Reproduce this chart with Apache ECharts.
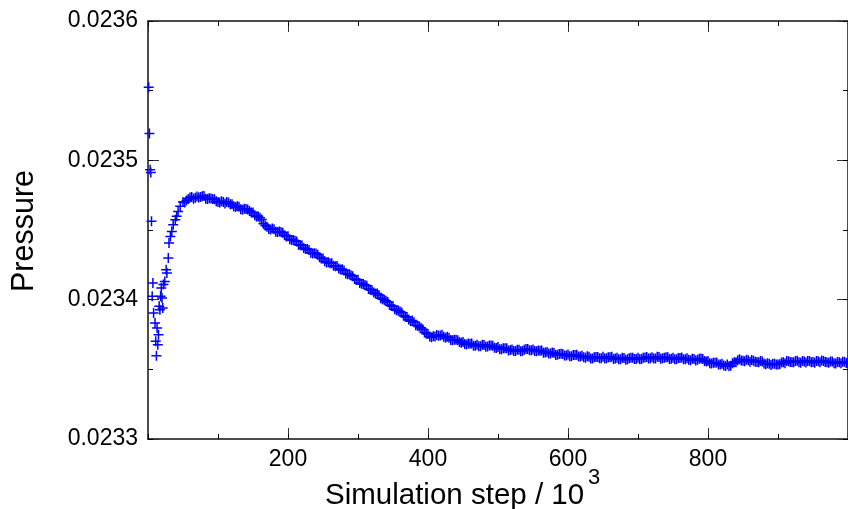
<!DOCTYPE html>
<html>
<head>
<meta charset="utf-8">
<script src="https://cdn.jsdelivr.net/npm/echarts@6/dist/echarts.min.js"></script>
<style>
html,body{margin:0;padding:0;background:#fff;}
#chart{width:848px;height:509px;}
</style>
</head>
<body>
<div id="chart"></div>
<script>
// Simulation step (10^3), first sampling
const steps = [
  1,2,3,4,5,6,7,8,10,11,12,13,14,15,16,17,18,19,20,21,22,24,26,27,29,30,32,34,36,39,41,43,46,
  50,55,60,65,70,75,80,85,90,95,100,105,110,115,120,125,130,135,140,145,150,155,160,165,170,175,180,185,190,195,
  200,205,210,215,220,225,230,235,240,245,250,255,260,265,270,275,280,285,290,295,
  300,305,310,315,320,325,330,335,340,345,350,355,360,365,370,375,380,385,390,395,
  400,405,410,415,420,425,430,435,440,445,450,455,460,465,470,475,480,485,490,495,
  500,505,510,515,520,525,530,535,540,545,550,555,560,565,570,575,580,585,590,595,
  600,605,610,615,620,625,630,635,640,645,650,655,660,665,670,675,680,685,690,695,
  700,705,710,715,720,725,730,735,740,745,750,755,760,765,770,775,780,785,790,795,
  800,805,810,815,820,825,830,835,840,845,850,855,860,865,870,875,880,885,890,895,
  900,905,910,915,920,925,930,935,940,945,950,955,960,965,970,975,980,985,990,995,1000
];
// Pressure values, first sampling
const pressure = [
  0.0235524,0.0235192,0.0234933,0.0234912,0.0234562,0.0234024,0.0234120,0.0233905,0.0233833,0.0233701,
  0.0233598,0.0233797,0.0233677,0.0233749,0.0233952,0.0233928,0.0234024,0.0234084,0.0234012,0.0233940,
  0.0234108,0.0234131,0.0234215,0.0234192,0.0234299,0.0234407,0.0234454,0.0234490,0.0234538,0.0234574,
  0.0234598,0.0234632,0.0234670,
  0.0234701,0.0234711,0.0234733,0.0234724,0.0234741,0.0234736,0.0234744,0.0234723,0.0234726,0.0234721,
  0.0234701,0.0234706,0.0234691,0.0234698,0.0234684,0.0234665,0.0234666,0.0234646,0.0234650,0.0234636,
  0.0234626,0.0234597,0.0234588,0.0234545,0.0234524,0.0234504,0.0234505,0.0234486,0.0234486,0.0234462,
  0.0234455,0.0234429,0.0234422,0.0234395,0.0234388,0.0234363,0.0234356,0.0234332,0.0234331,0.0234305,
  0.0234296,0.0234267,0.0234262,0.0234243,0.0234241,0.0234216,0.0234209,0.0234182,0.0234176,0.0234149,
  0.0234143,0.0234114,0.0234105,0.0234076,0.0234068,0.0234044,0.0234034,0.0234003,0.0233993,0.0233962,
  0.0233952,0.0233924,0.0233915,0.0233885,0.0233876,0.0233847,0.0233838,0.0233813,0.0233798,0.0233764,
  0.0233754,0.0233731,0.0233735,0.0233741,0.0233749,0.0233727,0.0233726,0.0233708,0.0233712,0.0233696,
  0.0233696,0.0233679,0.0233684,0.0233669,0.0233676,0.0233666,0.0233675,0.0233664,0.0233671,0.0233655,
  0.0233660,0.0233645,0.0233651,0.0233636,0.0233642,0.0233631,0.0233641,0.0233632,0.0233646,0.0233637,
  0.0233643,0.0233630,0.0233634,0.0233619,0.0233625,0.0233613,0.0233617,0.0233604,0.0233612,0.0233600,
  0.0233607,0.0233594,0.0233602,0.0233592,0.0233597,0.0233584,0.0233590,0.0233578,0.0233589,0.0233580,
  0.0233590,0.0233579,0.0233587,0.0233575,0.0233584,0.0233573,0.0233581,0.0233572,0.0233583,0.0233574,
  0.0233583,0.0233574,0.0233585,0.0233578,0.0233586,0.0233577,0.0233589,0.0233579,0.0233586,0.0233575,
  0.0233583,0.0233572,0.0233582,0.0233572,0.0233579,0.0233566,0.0233575,0.0233569,0.0233578,0.0233560,
  0.0233559,0.0233542,0.0233548,0.0233535,0.0233540,0.0233524,0.0233522,0.0233544,0.0233550,0.0233572,
  0.0233562,0.0233568,0.0233554,0.0233562,0.0233553,0.0233559,0.0233541,0.0233544,0.0233531,0.0233540,
  0.0233535,0.0233549,0.0233544,0.0233558,0.0233551,0.0233560,0.0233550,0.0233559,0.0233549,0.0233560,
  0.0233552,0.0233559,0.0233550,0.0233560,0.0233550,0.0233557,0.0233544,0.0233553,0.0233544,0.0233554,
  0.0233547
];
// Simulation step (10^3), interleaved sampling
const steps2 = [
  52.5,57.5,62.5,67.5,72.5,77.5,82.5,87.5,92.5,97.5,102.5,107.5,112.5,117.5,122.5,127.5,132.5,137.5,142.5,147.5,
  152.5,157.5,162.5,167.5,172.5,177.5,182.5,187.5,192.5,197.5,202.5,207.5,212.5,217.5,222.5,227.5,232.5,237.5,242.5,247.5,
  252.5,257.5,262.5,267.5,272.5,277.5,282.5,287.5,292.5,297.5,302.5,307.5,312.5,317.5,322.5,327.5,332.5,337.5,342.5,347.5,
  352.5,357.5,362.5,367.5,372.5,377.5,382.5,387.5,392.5,397.5,402.5,407.5,412.5,417.5,422.5,427.5,432.5,437.5,442.5,447.5,
  452.5,457.5,462.5,467.5,472.5,477.5,482.5,487.5,492.5,497.5,502.5,507.5,512.5,517.5,522.5,527.5,532.5,537.5,542.5,547.5,
  552.5,557.5,562.5,567.5,572.5,577.5,582.5,587.5,592.5,597.5,602.5,607.5,612.5,617.5,622.5,627.5,632.5,637.5,642.5,647.5,
  652.5,657.5,662.5,667.5,672.5,677.5,682.5,687.5,692.5,697.5,702.5,707.5,712.5,717.5,722.5,727.5,732.5,737.5,742.5,747.5,
  752.5,757.5,762.5,767.5,772.5,777.5,782.5,787.5,792.5,797.5,802.5,807.5,812.5,817.5,822.5,827.5,832.5,837.5,842.5,847.5,
  852.5,857.5,862.5,867.5,872.5,877.5,882.5,887.5,892.5,897.5,902.5,907.5,912.5,917.5,922.5,927.5,932.5,937.5,942.5,947.5,
  952.5,957.5,962.5,967.5,972.5,977.5,982.5,987.5,992.5,997.5
];
// Pressure values, interleaved sampling
const pressure2 = [
  0.0234698,0.0234723,0.0234736,0.0234731,0.0234733,0.0234743,0.0234724,0.0234727,0.0234723,0.0234707,
  0.0234697,0.0234701,0.0234701,0.0234684,0.0234671,0.0234671,0.0234649,0.0234652,0.0234648,0.0234626,
  0.0234605,0.0234597,0.0234575,0.0234532,0.0234508,0.0234510,0.0234488,0.0234490,0.0234480,0.0234454,
  0.0234434,0.0234428,0.0234418,0.0234391,0.0234370,0.0234364,0.0234336,0.0234333,0.0234322,0.0234296,
  0.0234275,0.0234269,0.0234261,0.0234240,0.0234223,0.0234218,0.0234188,0.0234182,0.0234168,0.0234141,
  0.0234120,0.0234112,0.0234099,0.0234071,0.0234051,0.0234044,0.0234010,0.0234000,0.0233983,0.0233954,
  0.0233932,0.0233922,0.0233907,0.0233878,0.0233857,0.0233850,0.0233817,0.0233807,0.0233787,0.0233756,
  0.0233736,0.0233737,0.0233747,0.0233742,0.0233733,0.0233733,0.0233710,0.0233713,0.0233708,0.0233691,
  0.0233681,0.0233686,0.0233685,0.0233670,0.0233665,0.0233676,0.0233662,0.0233671,0.0233669,0.0233653,
  0.0233645,0.0233651,0.0233652,0.0233638,0.0233631,0.0233641,0.0233629,0.0233641,0.0233646,0.0233637,
  0.0233631,0.0233636,0.0233636,0.0233621,0.0233614,0.0233621,0.0233603,0.0233610,0.0233610,0.0233599,
  0.0233594,0.0233602,0.0233605,0.0233592,0.0233586,0.0233594,0.0233577,0.0233586,0.0233589,0.0233580,
  0.0233577,0.0233587,0.0233590,0.0233578,0.0233573,0.0233583,0.0233569,0.0233579,0.0233583,0.0233575,
  0.0233573,0.0233583,0.0233589,0.0233580,0.0233578,0.0233590,0.0233576,0.0233584,0.0233586,0.0233576,
  0.0233572,0.0233581,0.0233585,0.0233573,0.0233568,0.0233576,0.0233563,0.0233576,0.0233575,0.0233556,
  0.0233544,0.0233548,0.0233549,0.0233535,0.0233528,0.0233534,0.0233525,0.0233550,0.0233566,0.0233563,
  0.0233558,0.0233565,0.0233567,0.0233555,0.0233550,0.0233557,0.0233536,0.0233540,0.0233540,0.0233534,
  0.0233536,0.0233551,0.0233560,0.0233552,0.0233550,0.0233561,0.0233547,0.0233557,0.0233560,0.0233551,
  0.0233548,0.0233558,0.0233563,0.0233553,0.0233548,0.0233557,0.0233542,0.0233551,0.0233554,0.0233546
];
// Axis tick labels
const xTickLabels = ['200','400','600','800'];
const yTickLabels = ['0.0233','0.0234','0.0235','0.0236'];

const FONT = '"Liberation Sans", Arial, Helvetica, sans-serif';
const points = steps.map((s, i) => [s, pressure[i]])
  .concat(steps2.map((s, i) => [s, pressure2[i]]));
const plus = 'path://M4.25,0h1.5v4.25h4.25v1.5h-4.25v4.25h-1.5v-4.25h-4.25v-1.5h4.25z';

const GRID = {left: 148, top: 21, width: 709, height: 418, containLabel: false};
const axisLineOn = {show: true, onZero: false, lineStyle: {color: '#111', width: 1.5}};
const axisLineOff = {show: false, onZero: false};
const majorTick = {show: true, inside: true, length: 11, lineStyle: {color: '#333', width: 1}};
const minorTickAsMajor = {show: true, inside: true, length: 5, lineStyle: {color: '#000', width: 1}};
const off = {show: false};

function xAx(gridIndex, position, interval, tick, label) {
  return {
    type: 'value', gridIndex, min: 0, max: 1000, interval, position,
    axisLine: gridIndex === 0 ? axisLineOn : axisLineOff, axisTick: tick,
    splitLine: off, minorTick: off, minorSplitLine: off,
    axisLabel: label || off
  };
}
function yAx(gridIndex, position, interval, tick, label) {
  return {
    type: 'value', gridIndex, min: 0.0233, max: 0.0236, interval, position,
    axisLine: gridIndex === 0 ? axisLineOn : axisLineOff, axisTick: tick,
    splitLine: off, minorTick: off, minorSplitLine: off,
    axisLabel: label || off
  };
}

const chart = echarts.init(document.getElementById('chart'), null, {renderer: 'canvas'});
chart.setOption({
  animation: false,
  backgroundColor: '#ffffff',
  grid: [GRID, Object.assign({}, GRID)],
  xAxis: [
    xAx(0, 'bottom', 200, majorTick, {
      show: true, margin: 9, fontSize: 23, fontFamily: FONT, color: '#000',
      showMinLabel: false, showMaxLabel: false,
      formatter: v => { const s = String(Math.round(v)); return xTickLabels.includes(s) ? s : ''; }
    }),
    xAx(0, 'top', 200, majorTick),
    xAx(1, 'bottom', 100, minorTickAsMajor),
    xAx(1, 'top', 100, minorTickAsMajor)
  ],
  yAxis: [
    yAx(0, 'left', 0.0001, majorTick, {
      show: true, margin: 10, fontSize: 23, fontFamily: FONT, color: '#000',
      formatter: v => { const s = v.toFixed(4); return yTickLabels.includes(s) ? s : ''; }
    }),
    yAx(0, 'right', 0.0001, majorTick),
    yAx(1, 'left', 0.00005, minorTickAsMajor),
    yAx(1, 'right', 0.00005, minorTickAsMajor)
  ],
  series: [{
    type: 'scatter',
    xAxisIndex: 0, yAxisIndex: 0,
    data: points,
    symbol: plus,
    symbolSize: 10,
    clip: false,
    itemStyle: {color: '#0000ff', opacity: 1},
    emphasis: {disabled: true}
  }],
  graphic: [
    {
      type: 'text', x: 25, y: 231, rotation: Math.PI / 2,
      style: {
        text: 'Pressure', fill: '#000', font: '30.5px ' + FONT,
        align: 'center', verticalAlign: 'middle', textAlign: 'center', textVerticalAlign: 'middle'
      }
    },
    {
      type: 'text',
      style: {
        x: 325, y: 496, text: 'Simulation step / 10', fill: '#000', font: '29.5px ' + FONT,
        align: 'left', verticalAlign: 'middle'
      }
    },
    {
      type: 'text',
      style: {
        x: 588, y: 478, text: '3', fill: '#000', font: '22px ' + FONT,
        align: 'left', verticalAlign: 'middle'
      }
    }
  ]
});
</script>
</body>
</html>
